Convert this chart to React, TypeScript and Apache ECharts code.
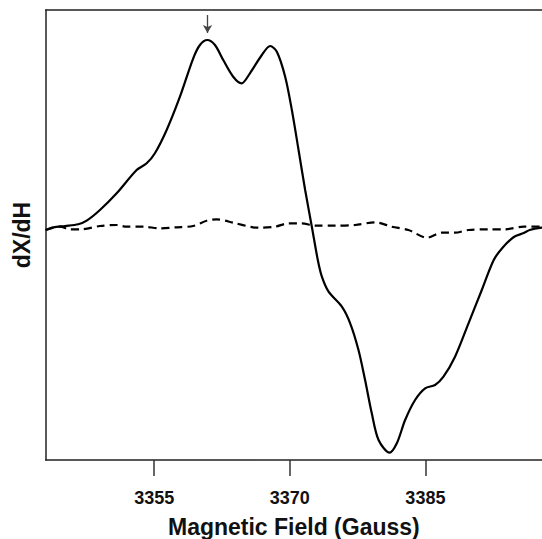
import React, { useEffect, useRef } from "react";
import * as echarts from "echarts";

// Magnetic field (Gauss)
const solidField = [
  3343.0, 3343.84, 3345.13, 3346.6, 3347.53, 3349.0, 3350.85, 3353.06, 3354.17, 3355.08,
  3356.38, 3357.85, 3359.32, 3360.06, 3360.87, 3361.72, 3362.64, 3363.74, 3364.67, 3365.59,
  3366.91, 3367.83, 3368.57, 3369.49, 3370.23, 3370.97, 3371.7, 3372.44, 3373.1, 3373.55,
  3374.29, 3375.76, 3376.68, 3377.6, 3378.33, 3379.07, 3379.82, 3381.03, 3381.84, 3382.76,
  3383.86, 3384.97, 3386.07, 3387.0, 3388.28, 3389.77, 3391.24, 3392.56, 3393.56, 3394.78,
  3395.88, 3396.54, 3397.87, 3399.0,
];
// dX/dH (arbitrary units)
const solidSignal = [
  0, 2.7, 4, 5.7, 9.3, 20, 36.7, 60, 66.7, 76.7,
  100, 133.3, 171.7, 185, 190, 185, 170, 153.3, 146.7, 156.7,
  175, 184, 178.3, 153.3, 120, 80, 40, 3.3, -30, -46.7,
  -61.7, -76.7, -93.3, -120, -150, -183.3, -210, -222.7, -213.3, -190,
  -170, -158.3, -155, -146.7, -126.7, -93.3, -60, -30, -17.5, -7,
  -3, 0, 2.3, 3,
];

const dashedField = [
  3343.0, 3344.58, 3345.69, 3346.98, 3349.0, 3350.85, 3351.96, 3353.79, 3355.64, 3357.48,
  3359.32, 3360.8, 3361.9, 3363.74, 3365.95, 3366.91, 3368.38, 3369.87, 3371.34, 3372.81,
  3375.02, 3377.23, 3379.44, 3381.29, 3383.13, 3385.16, 3386.81, 3388.28, 3389.77, 3391.98,
  3393.81, 3395.88, 3397.87, 3399.0,
];
const dashedSignal = [
  0, 3.3, 0.7, 0.7, 4, 5, 3.3, 3.3, 1.7, 2.7,
  4, 9.3, 10.7, 7.3, 2.7, 2.3, 3.3, 6.7, 6.7, 4.3,
  4.3, 5, 7.7, 3.3, 0, -7.7, -2.7, -2.7, 0, 0.7,
  0.7, 3.3, 3.3, 3.3,
];

const xTicks = [3355, 3370, 3385];
const xMin = 3343;
const xMax = 3397.9;
const yMin = -230;
const yMax = 220;

// arrow annotation marking the first peak
const arrowField = 3360.9;
const arrowFrom = 215;
const arrowTo = 197;

const FONT = "'Liberation Sans', Arial, sans-serif";

export default function App() {
  const ref = useRef<HTMLDivElement>(null);

  useEffect(() => {
    document.body.style.margin = "0";
    if (!ref.current) return;
    const chart = echarts.init(ref.current, undefined, { renderer: "svg" });
    const solid = solidField.map((x, i) => [x, solidSignal[i]]);
    const dashed = dashedField.map((x, i) => [x, dashedSignal[i]]);
    chart.setOption({
      animation: false,
      backgroundColor: "#fff",
      grid: {
        left: 45.7,
        right: 0,
        top: 10,
        bottom: 79,
        show: false,
        containLabel: false,
        outerBoundsMode: "none",
      },
      xAxis: [
        {
          type: "value",
          position: "bottom",
          min: xMin,
          max: xMax,
          name: "Magnetic Field (Gauss)",
          nameLocation: "middle",
          nameGap: 55,
          nameTextStyle: {
            fontFamily: FONT,
            fontWeight: "bold",
            fontSize: 23,
            color: "#111",
            padding: [0, 0, 0, 0],
          },
          axisLine: { show: true, onZero: false, lineStyle: { color: "#222", width: 1.5 } },
          axisTick: {
            show: true,
            inside: false,
            length: 16,
            customValues: xTicks,
            lineStyle: { color: "#333", width: 1.5 },
          },
          axisLabel: {
            show: true,
            customValues: xTicks,
            formatter: (v: number) => String(v),
            margin: 29,
            fontFamily: FONT,
            fontWeight: "bold",
            fontSize: 18,
            color: "#111",
          },
          splitLine: { show: false },
        },
        {
          type: "value",
          position: "top",
          min: xMin,
          max: xMax,
          axisLine: { show: true, onZero: false, lineStyle: { color: "#222", width: 1.5 } },
          axisTick: { show: false },
          axisLabel: { show: false },
          splitLine: { show: false },
        },
      ],
      yAxis: {
        type: "value",
        min: yMin,
        max: yMax,
        name: "dX/dH",
        nameLocation: "middle",
        nameGap: 12,
        nameTextStyle: {
          fontFamily: FONT,
          fontWeight: "bold",
          fontSize: 23,
          color: "#111",
        },
        axisLine: { show: true, onZero: false, lineStyle: { color: "#222", width: 1.5 } },
        axisTick: { show: false },
        axisLabel: { show: false },
        splitLine: { show: false },
      },
      series: [
        {
          type: "line",
          data: solid,
          smooth: 0.3,
          showSymbol: false,
          lineStyle: { color: "#000", width: 2.2 },
          z: 3,
          markLine: {
            silent: true,
            symbol: ["none", "arrow"],
            symbolSize: [7, 8],
            label: { show: false },
            lineStyle: { color: "#444", width: 1.3, type: "solid" },
            data: [[{ coord: [arrowField, arrowFrom] }, { coord: [arrowField, arrowTo] }]],
          },
        },
        {
          type: "line",
          data: dashed,
          smooth: 0.3,
          showSymbol: false,
          lineStyle: { color: "#000", width: 2.2, type: [8, 5] },
          z: 2,
        },
      ],
    });
    return () => chart.dispose();
  }, []);

  return <div ref={ref} style={{ width: 542, height: 539 }} />;
}
